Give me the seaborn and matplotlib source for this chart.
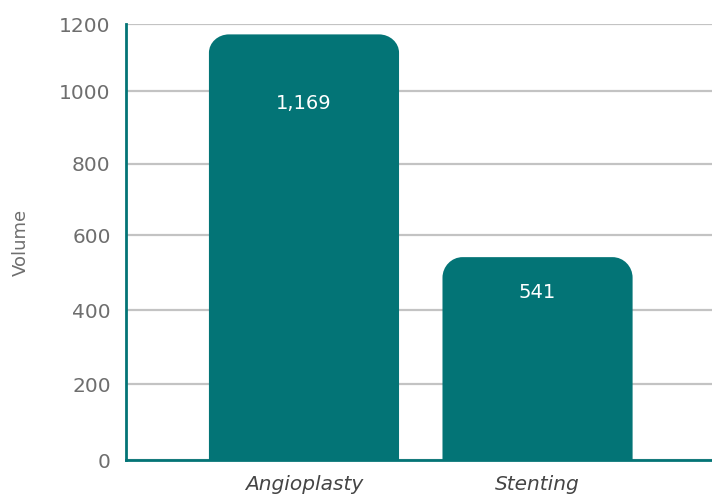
import matplotlib
matplotlib.use("Agg")
import matplotlib.pyplot as plt
from matplotlib.path import Path
from matplotlib.patches import PathPatch
import numpy as np
import seaborn as sns
import pandas as pd

procedures = ["Angioplasty", "Stenting"]
volumes = [1169, 541]
value_labels = ["1,169", "541"]
y_ticks = [0, 200, 400, 600, 800, 1000, 1200]
# vertical spacing of the gridlines (slightly uneven, in axis pixels)
tick_heights = [0, 76, 150, 225, 296.5, 369, 436]

TEAL = "#037476"
GRID = "#c3c3c3"
TICK_GREY = "#6e6e6e"

sns.set_theme(style="white")
plt.rcParams["font.family"] = ["DejaVu Sans"]

df = pd.DataFrame({"Procedure": procedures, "Volume": volumes})

fig = plt.figure(figsize=(7.12, 4.97), dpi=100)
ax = fig.add_axes([0.177, 0.0744, 0.823, 0.8773])


def fwd(y):
    return np.interp(y, y_ticks, tick_heights)


def inv(p):
    return np.interp(p, tick_heights, y_ticks)


ax.set_yscale("function", functions=(fwd, inv))

sns.barplot(data=df, x="Procedure", y="Volume", color=TEAL, saturation=1,
            width=0.814, ax=ax, zorder=3)

ax.set_xlim(-0.762, 1.747)
ax.set_ylim(0, 1200)

# swap each bar for a shape with rounded top corners
rx, ry = 0.086, 55.0
k = 0.5523
for patch in list(ax.patches):
    x0, y0 = patch.get_x(), patch.get_y()
    w, h = patch.get_width(), patch.get_height()
    x1, y1 = x0 + w, y0 + h
    verts = [
        (x0, y0), (x0, y1 - ry),
        (x0, y1 - ry + k * ry), (x0 + rx - k * rx, y1), (x0 + rx, y1),
        (x1 - rx, y1),
        (x1 - rx + k * rx, y1), (x1, y1 - ry + k * ry), (x1, y1 - ry),
        (x1, y0), (x0, y0),
    ]
    codes = [Path.MOVETO, Path.LINETO,
             Path.CURVE4, Path.CURVE4, Path.CURVE4,
             Path.LINETO,
             Path.CURVE4, Path.CURVE4, Path.CURVE4,
             Path.LINETO, Path.CLOSEPOLY]
    rounded = PathPatch(Path(verts, codes), facecolor=TEAL, edgecolor="none",
                        zorder=3)
    patch.remove()
    ax.add_patch(rounded)

for i, (v, lab) in enumerate(zip(volumes, value_labels)):
    ax.text(i, v * 0.825, lab, ha="center", va="center", color="white",
            fontsize=14, zorder=4)

ax.set_yticks(y_ticks)
ax.set_yticklabels([str(t) for t in y_ticks])
ax.yaxis.grid(True, color=GRID, linewidth=1.6, zorder=0)
ax.xaxis.grid(False)
ax.set_axisbelow(True)

ax.tick_params(axis="y", length=0, pad=11, labelsize=14.5, labelcolor=TICK_GREY)
ax.tick_params(axis="x", length=0, pad=11, labelsize=14.5, labelcolor="#454545")
for lbl in ax.get_xticklabels():
    lbl.set_fontstyle("italic")

ax.set_xlabel("")
ax.set_ylabel("Volume", fontsize=13, color=TICK_GREY, labelpad=21)

for side in ["top", "right"]:
    ax.spines[side].set_visible(False)
for side in ["left", "bottom"]:
    ax.spines[side].set_color(TEAL)
    ax.spines[side].set_linewidth(2)
    ax.spines[side].set_zorder(5)

fig.savefig("out.png", dpi=100)
